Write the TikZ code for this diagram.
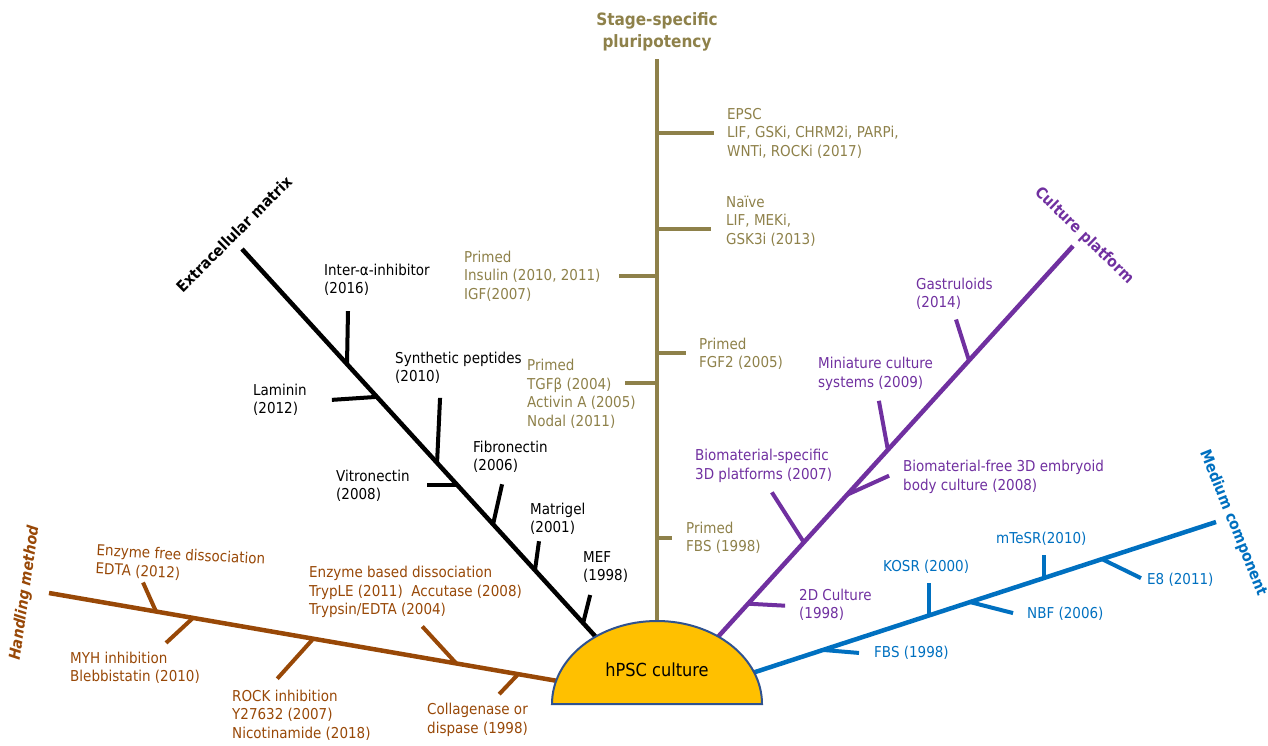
\documentclass[tikz,border=0pt]{standalone}
\usepackage{fontspec}
\setmainfont{DejaVu Sans}[FakeStretch=0.9]
\usetikzlibrary{shapes.geometric, calc}

\definecolor{olivebr}{RGB}{142,129,74}
\definecolor{rustbr}{RGB}{152,72,7}
\definecolor{violet}{RGB}{112,48,160}
\definecolor{ocean}{RGB}{0,112,192}
\definecolor{hubfill}{RGB}{255,192,0}
\definecolor{hubedge}{RGB}{47,82,143}

\begin{document}
\begin{tikzpicture}[x=1pt, y=1pt,
    spine/.style={line width=4.5pt},
    twig/.style={line width=4pt},
    lbl/.style={anchor=west, align=left, inner sep=0pt, font=\fontsize{15}{18.5}\selectfont},
    head/.style={inner sep=0pt, font=\fontsize{15.5}{19}\selectfont\bfseries}]
    \useasboundingbox (0,0) rectangle (1268,745);

    % hub and the ends of the five spines
    \node[ellipse, minimum width=210pt, minimum height=166pt, inner sep=0pt, outer sep=0pt] (hub) at (657,41) {};
    \coordinate (ecm) at (242,496);
    \coordinate (ssp) at (657,686);
    \coordinate (cp) at (1073,499);
    \coordinate (mc) at (1216,223);
    \coordinate (hm) at (49,152);

    % stage-specific pluripotency
    \draw[spine, olivebr] (hub) -- (ssp);
    \foreach \t/\dx in {0.885/57, 0.736/54, 0.664/-38, 0.544/29, 0.498/-32, 0.257/15}
        \draw[twig, olivebr] ($(hub.center)!\t!(ssp)$) -- ++(\dx,0);
    \node[head, olivebr, align=center, font=\fontsize{17}{22}\selectfont\bfseries] (ssp-t) at (657,713) {Stage-specific\\pluripotency};
    \node[lbl, olivebr] (epsc) at (727,612) {EPSC\\LIF, GSKi, CHRM2i, PARPi,\\WNTi, ROCKi (2017)};
    \node[lbl, olivebr] (naive) at (726,524) {Naïve\\LIF, MEKi,\\GSK3i (2013)};
    \node[lbl, olivebr] (insulin) at (464,469) {Primed\\Insulin (2010, 2011)\\IGF(2007)};
    \node[lbl, olivebr] (fgf) at (699,391) {Primed\\FGF2 (2005)};
    \node[lbl, olivebr] (tgf) at (527,351) {Primed\\TGFβ (2004)\\Activin A (2005)\\Nodal (2011)};
    \node[lbl, olivebr] (fbs-p) at (686,207) {Primed\\FBS (1998)};

    % extracellular matrix
    \draw[spine] (hub) -- (ecm);
    \foreach \t/\dx/\dy in {0.747/1/53, 0.675/-45/-3, 0.530/3/65, 0.482/-30/0, 0.395/9/40, 0.294/4/29, 0.178/7/28}
        \draw[twig] ($(hub.center)!\t!(ecm)$) -- ++(\dx,\dy);
    \node[head, rotate=45] (ecm-t) at (234,511) {Extracellular matrix};
    \node[lbl] (iai) at (324,465) {Inter-α-inhibitor\\(2016)};
    \node[lbl] (lam) at (253,345) {Laminin\\(2012)};
    \node[lbl] (pep) at (395,377) {Synthetic peptides\\(2010)};
    \node[lbl] (vit) at (336,259) {Vitronectin\\(2008)};
    \node[lbl] (fib) at (473,288) {Fibronectin\\(2006)};
    \node[lbl] (mat) at (530,226) {Matrigel\\(2001)};
    \node[lbl] (mef) at (583,178) {MEF\\(1998)};

    % culture platform
    \draw[spine, violet] (hub) -- (cp);
    \foreach \t/\dx/\dy in {0.219/37/-2, 0.353/-32/50, 0.457/42/19, 0.555/-9/49, 0.750/-13/41}
        \draw[twig, violet] ($(hub.center)!\t!(cp)$) -- ++(\dx,\dy);
    \node[head, violet, rotate=-44] (cp-t) at (1084,509) {Culture platform};
    \node[lbl, violet] (gas) at (916,451) {Gastruloids\\(2014)};
    \node[lbl, violet] (mini) at (818,371) {Miniature culture\\systems (2009)};
    \node[lbl, violet] (bfree) at (903,268) {Biomaterial-free 3D embryoid\\body culture (2008)};
    \node[lbl, violet] (bspec) at (695,279) {Biomaterial-specific\\3D platforms (2007)};
    \node[lbl, violet] (twod) at (799,140) {2D Culture\\(1998)};

    % medium component
    \draw[spine, ocean] (hub) -- (mc);
    \foreach \t/\dx/\dy in {0.297/36/-3, 0.487/0/32, 0.560/43/-11, 0.692/0/23, 0.796/39/-19}
        \draw[twig, ocean] ($(hub.center)!\t!(mc)$) -- ++(\dx,\dy);
    \node[head, ocean, rotate=-68] (mc-t) at (1233,222) {Medium component};
    \node[lbl, ocean] (fbs-m) at (874,92) {FBS (1998)};
    \node[lbl, ocean] (kosr) at (883,178) {KOSR (2000)};
    \node[lbl, ocean] (nbf) at (1027,131) {NBF (2006)};
    \node[lbl, ocean] (mtesr) at (996,206) {mTeSR(2010)};
    \node[lbl, ocean] (e8) at (1147,165) {E8 (2011)};

    % handling method
    \draw[spine, rustbr] (hub.167) -- (hm);
    \foreach \t/\dx/\dy in {0.075/-19/-20, 0.197/-34/37, 0.479/-36/-40, 0.716/-27/-25, 0.789/-13/29}
        \draw[twig, rustbr] ($(hub.167)!\t!(hm)$) -- ++(\dx,\dy);
    \node[head, rustbr, rotate=82, font=\fontsize{15.5}{19}\selectfont\bfseries\itshape] (hm-t) at (25,152) {Handling method};
    \node[lbl, rustbr, rotate=-3] (efree) at (96,185) {Enzyme free dissociation\\EDTA (2012)};
    \node[lbl, rustbr] (myh) at (70,77) {MYH inhibition\\Blebbistatin (2010)};
    \node[lbl, rustbr] (rock) at (232,30) {ROCK inhibition\\Y27632 (2007)\\Nicotinamide (2018)};
    \node[lbl, rustbr] (ebased) at (309,153) {Enzyme based dissociation\\TrypLE (2011) \ Accutase (2008)\\Trypsin/EDTA (2004)};
    \node[lbl, rustbr] (coll) at (427,25) {Collagenase or\\dispase (1998)};

    % the dome on top of the spine ends
    \filldraw[fill=hubfill, draw=hubedge, line width=2pt] (hub.west) arc[start angle=180, end angle=0, x radius=105pt, y radius=83pt] -- cycle;
    \node[font=\fontsize{18}{20}\selectfont] (hub-t) at (657,75) {hPSC culture};
\end{tikzpicture}
\end{document}
